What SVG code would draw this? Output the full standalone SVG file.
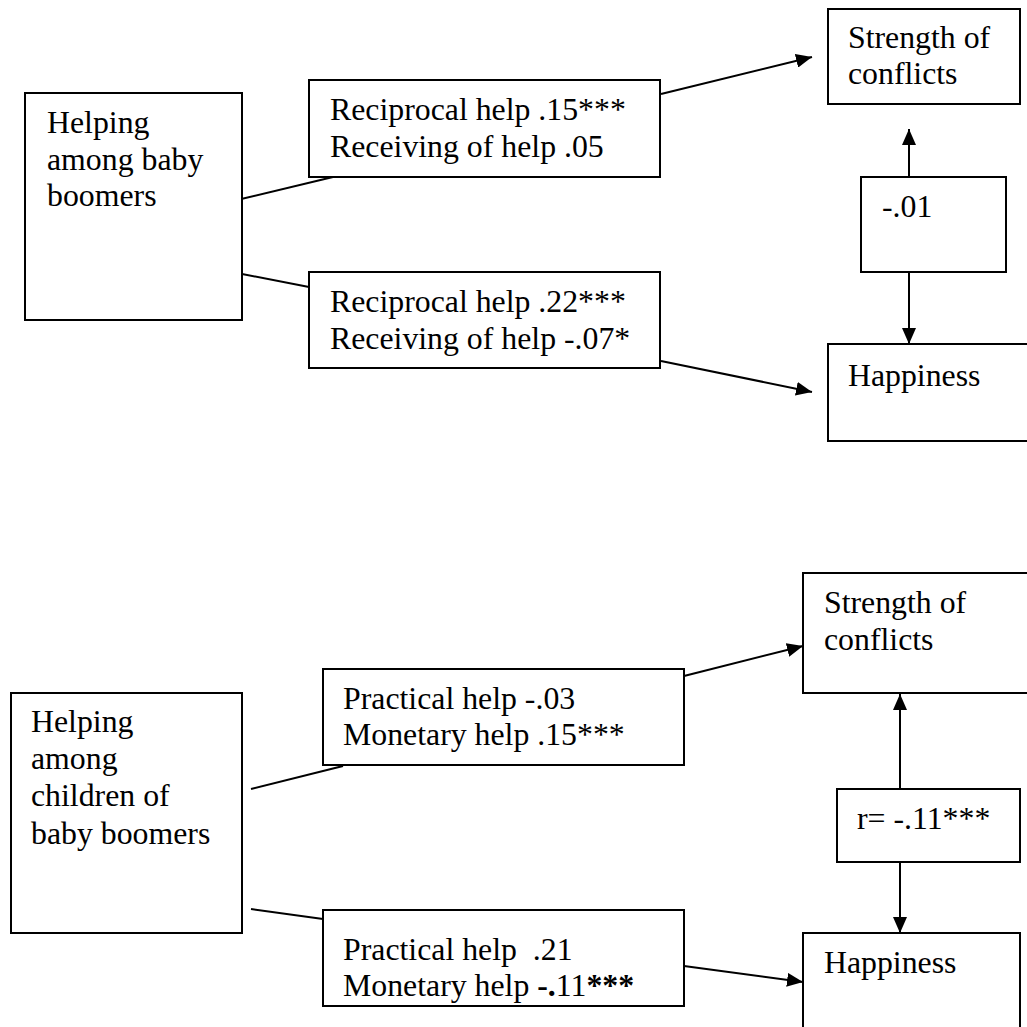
<svg xmlns="http://www.w3.org/2000/svg" width="1027" height="1027" viewBox="0 0 1027 1027">
<style>
.box{fill:#fff;stroke:#000;stroke-width:2}
.ln{fill:none;stroke:#000;stroke-width:2}
text{font-family:'Liberation Serif','Tinos','Times New Roman','Noto Serif','DejaVu Serif',serif;font-size:31.8px;fill:#000;white-space:pre}
.b{font-weight:bold}
</style>
<defs>
<marker id="ah" markerWidth="16" markerHeight="14" refX="16" refY="7" orient="auto" markerUnits="userSpaceOnUse">
<path d="M0,0 L16,7 L0,14 Z" fill="#000"/>
</marker>
</defs>
<rect width="1027" height="1027" fill="#fff"/>

<g id="connectors">
<line class="ln" x1="237" y1="200" x2="333" y2="177"/>
<line class="ln" x1="237" y1="273" x2="309" y2="287"/>
<line class="ln" x1="661" y1="94" x2="812" y2="57" marker-end="url(#ah)"/>
<line class="ln" x1="661" y1="361" x2="812" y2="392" marker-end="url(#ah)"/>
<line class="ln" x1="909" y1="177" x2="909" y2="129" marker-end="url(#ah)"/>
<line class="ln" x1="909" y1="272" x2="909" y2="344" marker-end="url(#ah)"/>
<line class="ln" x1="251" y1="789" x2="343" y2="766"/>
<line class="ln" x1="251" y1="909" x2="323" y2="919"/>
<line class="ln" x1="684" y1="676" x2="803" y2="646" marker-end="url(#ah)"/>
<line class="ln" x1="684" y1="966" x2="803" y2="982" marker-end="url(#ah)"/>
<line class="ln" x1="900" y1="789" x2="900" y2="694" marker-end="url(#ah)"/>
<line class="ln" x1="900" y1="862" x2="900" y2="933" marker-end="url(#ah)"/>
</g>

<g id="helping-boomers">
<rect class="box" x="25" y="93" width="217" height="227"/>
<text x="47" y="133">Helping</text>
<text x="47" y="170">among baby</text>
<text x="47" y="206">boomers</text>
</g>

<g id="top-effects-conflicts">
<rect class="box" x="309" y="80" width="351" height="97"/>
<text x="330" y="120">Reciprocal help .15***</text>
<text x="330" y="157">Receiving of help .05</text>
</g>

<g id="top-effects-happiness">
<rect class="box" x="309" y="272" width="351" height="96"/>
<text x="330" y="312">Reciprocal help .22***</text>
<text x="330" y="349">Receiving of help -.07*</text>
</g>

<g id="top-conflicts">
<rect class="box" x="828" y="9" width="192" height="95"/>
<text x="848" y="48">Strength of</text>
<text x="848" y="84">conflicts</text>
</g>

<g id="top-correlation">
<rect class="box" x="861" y="177" width="145" height="95"/>
<text x="882" y="217">-.01</text>
</g>

<g id="top-happiness">
<rect class="box" x="828" y="344" width="210" height="97"/>
<text x="848" y="386">Happiness</text>
</g>

<g id="helping-children">
<rect class="box" x="11" y="693" width="231" height="240"/>
<text x="31" y="732">Helping</text>
<text x="31" y="769">among</text>
<text x="31" y="806">children of</text>
<text x="31" y="844">baby boomers</text>
</g>

<g id="bottom-effects-conflicts">
<rect class="box" x="323" y="669" width="361" height="96"/>
<text x="343" y="709">Practical help -.03</text>
<text x="343" y="745">Monetary help .15***</text>
</g>

<g id="bottom-effects-happiness">
<rect class="box" x="323" y="910" width="361" height="96"/>
<text x="343" y="960">Practical help  .21</text>
<text x="343" y="996">Monetary help <tspan class="b">-.</tspan>11<tspan class="b">***</tspan></text>
</g>

<g id="bottom-conflicts">
<rect class="box" x="803" y="573" width="230" height="120"/>
<text x="824" y="613">Strength of</text>
<text x="824" y="650">conflicts</text>
</g>

<g id="bottom-correlation">
<rect class="box" x="837" y="789" width="183" height="73"/>
<text x="857" y="829">r= -.11***</text>
</g>

<g id="bottom-happiness">
<rect class="box" x="803" y="933" width="217" height="110"/>
<text x="824" y="973">Happiness</text>
</g>
</svg>
